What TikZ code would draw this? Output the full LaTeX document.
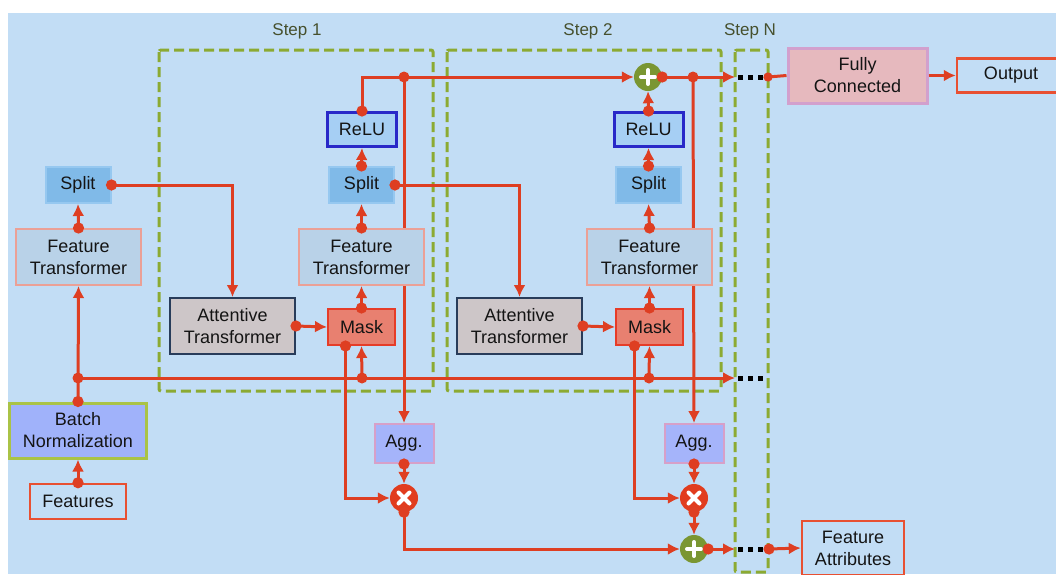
\documentclass[tikz,border=0pt]{standalone}
\usepackage{fontspec}
\setmainfont{Liberation Sans}
\usepackage{tikz}
\usetikzlibrary{
  arrows.meta,
  positioning,
  calc
}
\definecolor{bgblue}{RGB}{194,221,245}
\definecolor{stepgreen}{RGB}{140,170,50}
\definecolor{steptext}{RGB}{70,80,45}
\definecolor{linkred}{RGB}{222,62,34}
\definecolor{splitblue}{RGB}{128,186,232}
\definecolor{splitedge}{RGB}{150,200,240}
\definecolor{ftfill}{RGB}{185,210,232}
\definecolor{ftedge}{RGB}{235,160,150}
\definecolor{relufill}{RGB}{166,207,244}
\definecolor{reluedge}{RGB}{40,40,200}
\definecolor{attfill}{RGB}{205,198,200}
\definecolor{attedge}{RGB}{40,60,90}
\definecolor{maskfill}{RGB}{232,128,112}
\definecolor{maskedge}{RGB}{230,60,40}
\definecolor{bnfill}{RGB}{160,178,250}
\definecolor{bnedge}{RGB}{170,195,70}
\definecolor{aggfill}{RGB}{165,180,250}
\definecolor{aggedge}{RGB}{215,160,200}
\definecolor{fcfill}{RGB}{230,185,190}
\definecolor{fcedge}{RGB}{210,160,205}
\definecolor{ioedge}{RGB}{232,80,50}
\definecolor{mulred}{RGB}{225,60,30}
\definecolor{plusgreen}{RGB}{122,150,50}
\pgfdeclarelayer{back}
\pgfdeclarelayer{under}
\pgfdeclarelayer{links}
\pgfsetlayers{back,under,main,links}
\tikzset{
  blockbox/.style={
    draw,
    line width=2pt,
    align=center,
    inner sep=0pt,
    text=black!92,
    font=\fontsize{18}{22}\selectfont
  },
  splitbox/.style={blockbox,draw=splitedge,fill=splitblue,minimum width=65pt,minimum height=36pt},
  ftbox/.style={blockbox,draw=ftedge,fill=ftfill,minimum width=125pt,minimum height=56pt},
  relubox/.style={blockbox,line width=3pt,draw=reluedge,fill=relufill,minimum width=69pt,minimum height=34pt},
  attbox/.style={blockbox,draw=attedge,fill=attfill,minimum width=125pt,minimum height=56pt},
  maskbox/.style={blockbox,draw=maskedge,fill=maskfill,minimum width=67pt,minimum height=36pt},
  bnbox/.style={blockbox,line width=3pt,draw=bnedge,fill=bnfill,minimum width=137pt,minimum height=55pt},
  aggbox/.style={blockbox,draw=aggedge,fill=aggfill,minimum width=59pt,minimum height=39pt},
  fcbox/.style={blockbox,line width=3pt,draw=fcedge,fill=fcfill,minimum width=139pt,minimum height=55pt},
  iobox/.style={blockbox,line width=2.5pt,draw=ioedge},
  opnode/.style={circle,minimum size=28pt,inner sep=0pt},
  plusop/.style={opnode,fill=plusgreen,
    path picture={\draw[white,line width=4pt,line cap=round]
      (path picture bounding box.center) ++(-7pt,0) -- ++(14pt,0)
      (path picture bounding box.center) ++(0,-7pt) -- ++(0,14pt);}},
  mulop/.style={opnode,fill=mulred,
    path picture={\draw[white,line width=4pt,line cap=round]
      (path picture bounding box.center) ++(-5.5pt,-5.5pt) -- ++(11pt,11pt)
      (path picture bounding box.center) ++(-5.5pt,5.5pt) -- ++(11pt,-11pt);}},
  steplabel/.style={text=steptext,font=\fontsize{17}{20}\selectfont},
  stepframe/.style={draw=stepgreen,line width=3pt,dash pattern=on 10pt off 5pt,rounded corners=2pt},
  link/.style={draw=linkred,line width=3pt},
  arrowlink/.style={link,-{Latex[length=12pt,width=12pt]}},
  dotarrow/.style={link,{Circle[length=11pt]}-{Latex[length=12pt,width=12pt]},shorten <=-5.5pt},
  dotline/.style={link,{Circle[length=9pt]}-,shorten <=-4.5pt},
  ellipsis/.style={draw=black,line width=5pt,dash pattern=on 5pt off 5pt}
}

\begin{document}
\begin{tikzpicture}[x=1pt,y=-1pt]
  \useasboundingbox (0,0) rectangle (1056,574);

  % input column
  \node[iobox,minimum width=96pt,minimum height=35pt] (feat) at (78,501.5) {Features};
  \node[bnbox] (bn) at (78,430.5) {Batch\\Normalization};
  \node[ftbox] (ft0) at (78.5,257) {Feature\\Transformer};
  \node[splitbox] (split0) at (78,185) {Split};

  % step 1
  \node[attbox] (att1) at (232.5,326) {Attentive\\Transformer};
  \node[maskbox] (mask1) at (361.5,327) {Mask};
  \node[ftbox] (ft1) at (361.5,257) {Feature\\Transformer};
  \node[splitbox] (split1) at (361.5,185) {Split};
  \node[relubox] (relu1) at (362,129.5) {ReLU};
  \node[aggbox] (agg1) at (404,443.5) {Agg.};
  \node[mulop] (mul1) at (404,498) {};

  % step 2
  \node[attbox] (att2) at (519.5,326) {Attentive\\Transformer};
  \node[maskbox] (mask2) at (649.5,327) {Mask};
  \node[ftbox] (ft2) at (649.5,257) {Feature\\Transformer};
  \node[splitbox] (split2) at (648.5,185) {Split};
  \node[relubox] (relu2) at (648.5,129.5) {ReLU};
  \node[plusop] (plus2) at (648,77) {};
  \node[aggbox] (agg2) at (694,443.5) {Agg.};
  \node[mulop] (mul2) at (694,498) {};
  \node[plusop] (plus3) at (694,549) {};

  % outputs
  \node[fcbox] (fc) at (857.5,75.5) {Fully\\Connected};
  \node[iobox,minimum width=108pt,minimum height=34pt] (out) at (1011,75.5) {Output};
  \node[iobox,minimum width=102pt,minimum height=54pt] (fattr) at (853,548) {Feature\\Attributes};

  \node[steplabel] (lab1) at (297,31) {Step 1};
  \node[steplabel] (lab2) at (588,31) {Step 2};
  \node[steplabel] (labn) at (750,31) {Step N};

  \coordinate (jb0) at (78,378);
  \coordinate (jb1) at (362,378);
  \coordinate (jb2) at (649,378);
  \coordinate (j1) at (404,77);
  \coordinate (j2) at (693,77);
  \coordinate (nt) at (735,77);
  \coordinate (nb) at (735,378);
  \coordinate (na) at (735,549);
  \coordinate (ntout) at (768,77);
  \coordinate (naout) at (769,549);

  \begin{pgfonlayer}{back}
    \fill[white] (0,0) rectangle (1056,574);
    \fill[bgblue] (8,13) rectangle (1056,574);
    \draw[stepframe] (159,50) rectangle (433,391);
    \draw[stepframe] (447,50) rectangle (721,391);
    \draw[stepframe] (735,50) rectangle (768,572);
  \end{pgfonlayer}

  \begin{pgfonlayer}{under}
    \draw[arrowlink] (j1) -- (agg1.north);
    \draw[arrowlink] (j2) -- (agg2.north);
  \end{pgfonlayer}

  \begin{pgfonlayer}{links}
    \draw[dotarrow] (feat.north) -- (bn.south);
    \draw[dotarrow] (bn.north) -- (ft0.south);
    \draw[dotarrow] (ft0.north) -- (split0.south);
    \draw[dotarrow] (split0.east) -| (att1.north);
    \draw[arrowlink] (jb0) -- (nb);

    \draw[dotarrow] (att1.east) -- (mask1.west);
    \draw[dotarrow] (mask1.north) -- (ft1.south);
    \draw[dotarrow] (ft1.north) -- (split1.south);
    \draw[dotarrow] (split1.north) -- (relu1.south);
    \draw[dotarrow] (relu1.north) |- (plus2.west);
    \draw[dotarrow] (split1.east) -| (att2.north);
    \draw[arrowlink] (jb1) -- (mask1.south);
    \draw[dotarrow] ([xshift=-16pt]mask1.south) |- (mul1.west);
    \draw[dotarrow] (agg1.south) -- (mul1.north);
    \draw[dotarrow] (mul1.south) |- (plus3.west);

    \draw[dotarrow] (att2.east) -- (mask2.west);
    \draw[dotarrow] (mask2.north) -- (ft2.south);
    \draw[dotarrow] (ft2.north) -- (split2.south);
    \draw[dotarrow] (split2.north) -- (relu2.south);
    \draw[dotarrow] (relu2.north) -- (plus2.south);
    \draw[dotarrow] (plus2.east) -- (nt);
    \draw[arrowlink] (jb2) -- (mask2.south);
    \draw[dotarrow] ([xshift=-15pt]mask2.south) |- (mul2.west);
    \draw[dotarrow] (agg2.south) -- (mul2.north);
    \draw[dotarrow] (mul2.south) -- (plus3.north);
    \draw[dotarrow] (plus3.east) -- (na);

    \draw[ellipsis] ([xshift=3pt]nt) -- ([xshift=-2pt]ntout);
    \draw[ellipsis] ([xshift=3pt]nb) -- ([xshift=-2pt]nb -| ntout);
    \draw[ellipsis] ([xshift=3pt]na) -- ([xshift=-3pt]naout);
    \draw[dotline] (ntout) -- (fc.west);
    \draw[dotarrow] (naout) -- (fattr.west);
    \draw[arrowlink] (fc.east) -- (out.west);

    \foreach \j in {jb0,jb1,jb2,j1,j2}
      \fill[linkred] (\j) circle (5.5pt);
  \end{pgfonlayer}
\end{tikzpicture}
\end{document}
